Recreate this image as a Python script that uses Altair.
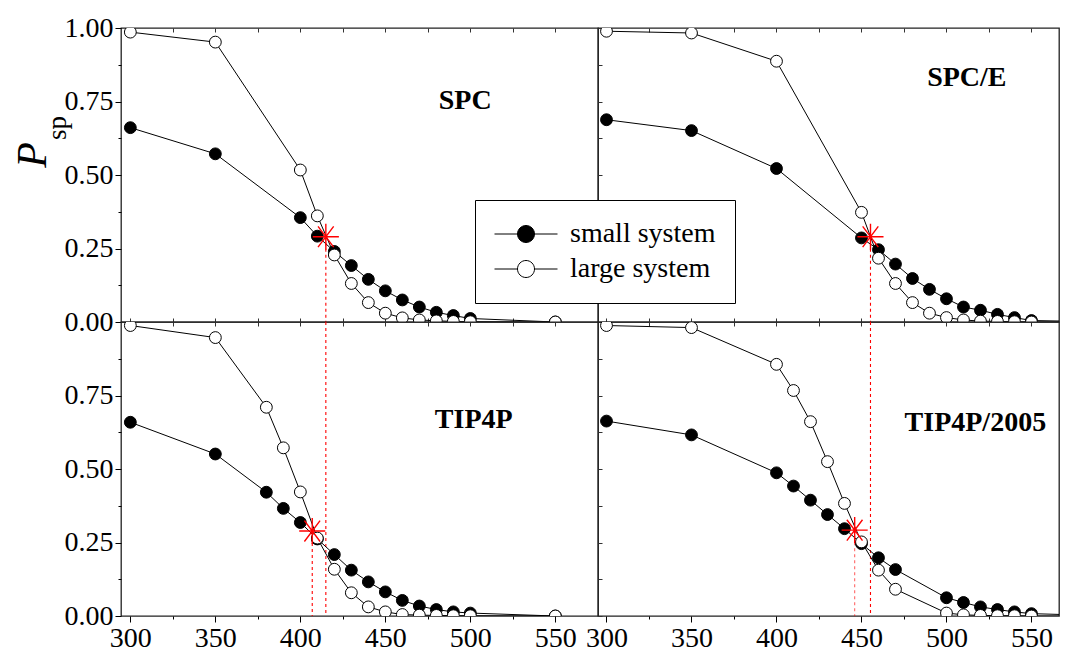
import altair as alt
import pandas as pd

SERIF = "Liberation Serif"

# ---------------- data ----------------
T_SPC = [300, 350, 400, 410, 420, 430, 440, 450, 460, 470, 480, 490, 500, 550]
SPC_small = [0.661, 0.572, 0.355, 0.292, 0.240, 0.192, 0.145, 0.106, 0.075, 0.051, 0.033, 0.022, 0.012, 0.0]
SPC_large = [0.986, 0.952, 0.517, 0.361, 0.228, 0.131, 0.066, 0.030, 0.014, 0.007, 0.004, 0.002, 0.001, 0.0]

T_SPCE = [300, 350, 400, 450, 460, 470, 480, 490, 500, 510, 520, 530, 540, 550, 600]
SPCE_small = [0.688, 0.651, 0.522, 0.286, 0.246, 0.197, 0.148, 0.111, 0.079, 0.051, 0.040, 0.026, 0.015, 0.005, 0.0]
SPCE_large = [0.989, 0.983, 0.887, 0.373, 0.217, 0.131, 0.066, 0.030, 0.015, 0.007, 0.003, 0.002, 0.001, 0.0, 0.0]

T_TIP4P = [300, 350, 380, 390, 400, 410, 420, 430, 440, 450, 460, 470, 480, 490, 500, 550]
TIP4P_small = [0.659, 0.551, 0.421, 0.366, 0.318, 0.262, 0.209, 0.156, 0.116, 0.082, 0.053, 0.034, 0.022, 0.014, 0.010, 0.0]
TIP4P_large = [0.988, 0.947, 0.710, 0.572, 0.422, 0.265, 0.159, 0.079, 0.031, 0.014, 0.005, 0.003, 0.002, 0.001, 0.001, 0.0]

T_2005 = [300, 350, 400, 410, 420, 430, 440, 450, 460, 470, 500, 510, 520, 530, 540, 550, 600]
T2005_small = [0.663, 0.616, 0.487, 0.442, 0.394, 0.345, 0.297, 0.246, 0.198, 0.158, 0.062, 0.046, 0.031, 0.022, 0.014, 0.008, 0.0]
T2005_large = [0.988, 0.981, 0.856, 0.767, 0.661, 0.525, 0.383, 0.252, 0.156, 0.091, 0.010, 0.004, 0.002, 0.001, 0.001, 0.0, 0.0]

# crossing points (star) and dashed guide lines
STAR_SPC = (415.0, 0.290)
STAR_SPCE = (455.3, 0.290)
STAR_TIP4P = (407.0, 0.289)
STAR_2005 = (446.0, 0.292)

MODELS = ["SPC", "SPC/E", "TIP4P", "TIP4P/2005"]
LABEL_POS = [(497, 0.753), (512, 0.83), (502, 0.667), (517, 0.655)]

SERIES = ["small system", "large system"]
X_TICKS = [300, 325, 350, 375, 400, 425, 450, 475, 500, 525, 550]
Y_TICKS_TOP = [0.0, 0.125, 0.25, 0.375, 0.5, 0.625, 0.75, 0.875, 1.0]
Y_TICKS_BOTTOM = [0.0, 0.125, 0.25, 0.375, 0.5, 0.625, 0.75, 0.875]

STAR_PATH = "M-1,0L1,0M0,-1L0,1M-0.6,-0.8L0.6,0.8M-0.6,0.8L0.6,-0.8"
LEGEND_SYMBOL = ("M-1,0L-0.27,0M0.27,0L1,0M-0.27,0A0.27,0.27,0,1,1,0.27,0"
                 "A0.27,0.27,0,1,1,-0.27,0Z")

fill_scale = alt.Scale(domain=SERIES, range=["black", "white"])

X_MAJOR = "datum.value % 50 == 0"
Y_MAJOR = "abs(datum.value * 4 - round(datum.value * 4)) < 0.001"


def label_axis_x():
    return alt.Axis(values=X_TICKS, labelFont=SERIF, labelFontSize=28, labelColor="black",
                    labelExpr=f"{X_MAJOR} ? format(datum.value, 'd') : ''",
                    tickSize={"condition": {"test": X_MAJOR, "value": 6}, "value": 3},
                    tickColor="black", domain=False, grid=False, labelPadding=2, title=None,
                    orient="bottom")


def label_axis_y(vals):
    return alt.Axis(values=vals, labelFont=SERIF, labelFontSize=28, labelColor="black",
                    labelExpr=f"{Y_MAJOR} ? format(datum.value, '.2f') : ''",
                    tickSize={"condition": {"test": Y_MAJOR, "value": 6}, "value": 3},
                    tickColor="black", domain=False, grid=False, labelPadding=2, title=None,
                    orient="left")


def inner_axis(orient, vals):
    return alt.Axis(values=vals, labels=False, tickSize=4, offset=-4, tickColor="#333333",
                    domain=False, grid=False, title=None, orient=orient)


def panel(T, small, large, star, rules, label, lpos, xdom, width,
          bottom, left, yvals, legend=None, ylabel=False):
    xscale = alt.Scale(domain=xdom, nice=False, zero=False)
    yscale = alt.Scale(domain=[0, 1], nice=False)

    def X(f, axis=None):
        return alt.X(f, type="quantitative", scale=xscale, axis=axis, title=None)

    def Y(f, axis=None):
        return alt.Y(f, type="quantitative", scale=yscale, axis=axis, title=None)

    df_s = pd.DataFrame({"T": T, "P": small, "series": SERIES[0]})
    df_l = pd.DataFrame({"T": T, "P": large, "series": SERIES[1]})
    df_r = pd.DataFrame({"x": [r[0] for r in rules], "y": [r[1] for r in rules],
                         "y2": [0.0] * len(rules), "op": [r[2] for r in rules]})
    df_star = pd.DataFrame({"x": [star[0]], "y": [star[1]]})
    df_lab = pd.DataFrame({"x": [lpos[0]], "y": [lpos[1]], "t": [label]})

    layers = []
    # axis carriers (invisible, clipped)
    ax_x = label_axis_x() if bottom else inner_axis("bottom", X_TICKS)
    ax_y = label_axis_y(yvals) if left else inner_axis("left", yvals)
    layers.append(
        alt.Chart(df_s).mark_point(opacity=0, clip=True)
        .encode(x=X("T", ax_x), y=Y("P", ax_y))
    )
    layers.append(
        alt.Chart(df_s).mark_point(opacity=0, clip=True)
        .encode(x=X("T", inner_axis("top", X_TICKS)), y=Y("P"))
    )
    layers.append(
        alt.Chart(df_r).mark_rule(color="#ff0000", strokeDash=[3, 3], strokeWidth=1.1, clip=True)
        .encode(x=X("x"), y=Y("y"), y2="y2", strokeOpacity=alt.StrokeOpacity("op:Q", scale=None))
    )
    for df, s in ((df_s, 0), (df_l, 1)):
        layers.append(
            alt.Chart(df).mark_line(color="black", strokeWidth=1, clip=True)
            .encode(x=X("T"), y=Y("P"))
        )
        if legend is not None:
            fill = alt.Fill("series:N", scale=fill_scale, legend=legend)
        else:
            fill = alt.value(["black", "white"][s])
        layers.append(
            alt.Chart(df).mark_point(shape="circle", size=140, filled=True, stroke="black",
                                     strokeWidth=1, opacity=1, clip=True)
            .encode(x=X("T"), y=Y("P"), fill=fill)
        )
    layers.append(
        alt.Chart(df_star).mark_point(shape=STAR_PATH, size=680, stroke="red", strokeWidth=1.4,
                                      filled=False, opacity=1, clip=True)
        .encode(x=X("x"), y=Y("y"))
    )
    layers.append(
        alt.Chart(df_lab).mark_text(font=SERIF, fontWeight="bold", fontSize=28, color="black",
                                    align="center", baseline="middle")
        .encode(x=X("x"), y=Y("y"), text="t:N")
    )
    if ylabel:
        layers.append(
            alt.Chart(pd.DataFrame({"t": ["P"]})).mark_text(
                font=SERIF, fontStyle="italic", fontSize=42, color="black", angle=270,
                align="center", baseline="middle")
            .encode(x=alt.value(-88), y=alt.value(127), text="t:N")
        )
        layers.append(
            alt.Chart(pd.DataFrame({"t": ["sp"]})).mark_text(
                font=SERIF, fontSize=27, color="black", angle=270,
                align="center", baseline="middle")
            .encode(x=alt.value(-63), y=alt.value(100), text="t:N")
        )
    return (alt.layer(*layers).resolve_axis(x="independent", y="independent")
            .properties(width=width, height=294))


LEFT_DOM = [294.5, 575.1]
RIGHT_DOM = [295.0, 566.2]
W_LEFT = 477
W_RIGHT = 461

legend = alt.Legend(
    title=None, orient="none", legendX=354, legendY=172, direction="vertical",
    symbolType=LEGEND_SYMBOL, symbolSize=3969, symbolStrokeColor="black",
    symbolStrokeWidth=1, labelFont=SERIF, labelFontSize=28, labelColor="black",
    fillColor="white", strokeColor="black", padding=19, rowPadding=5, labelOffset=12,
    clipHeight=30,
)

tl = panel(T_SPC, SPC_small, SPC_large, STAR_SPC, [(STAR_SPC[0], STAR_SPC[1], 1.0)],
           MODELS[0], LABEL_POS[0], LEFT_DOM, W_LEFT, False, True, Y_TICKS_TOP, ylabel=True)
tr = panel(T_SPCE, SPCE_small, SPCE_large, STAR_SPCE, [(STAR_SPCE[0], STAR_SPCE[1], 1.0)],
           MODELS[1], LABEL_POS[1], RIGHT_DOM, W_RIGHT, False, False, Y_TICKS_TOP, legend=legend)
bl = panel(T_TIP4P, TIP4P_small, TIP4P_large, STAR_TIP4P,
           [(STAR_SPC[0], 1.0, 1.0), (STAR_TIP4P[0], STAR_TIP4P[1], 1.0)],
           MODELS[2], LABEL_POS[2], LEFT_DOM, W_LEFT, True, True, Y_TICKS_BOTTOM)
br = panel(T_2005, T2005_small, T2005_large, STAR_2005,
           [(STAR_SPCE[0], 1.0, 1.0), (STAR_2005[0], STAR_2005[1], 0.6)],
           MODELS[3], LABEL_POS[3], RIGHT_DOM, W_RIGHT, True, False, Y_TICKS_BOTTOM)

chart = (
    alt.concat(tl, tr, bl, br, columns=2, spacing=0, bounds="flush")
    .properties(padding={"left": 3, "top": 5, "right": 0, "bottom": 0}, background="white")
    .configure_view(stroke="#222222", strokeWidth=1.3)
)

chart.save("out.html", embed_options={"renderer": "svg", "actions": False})
